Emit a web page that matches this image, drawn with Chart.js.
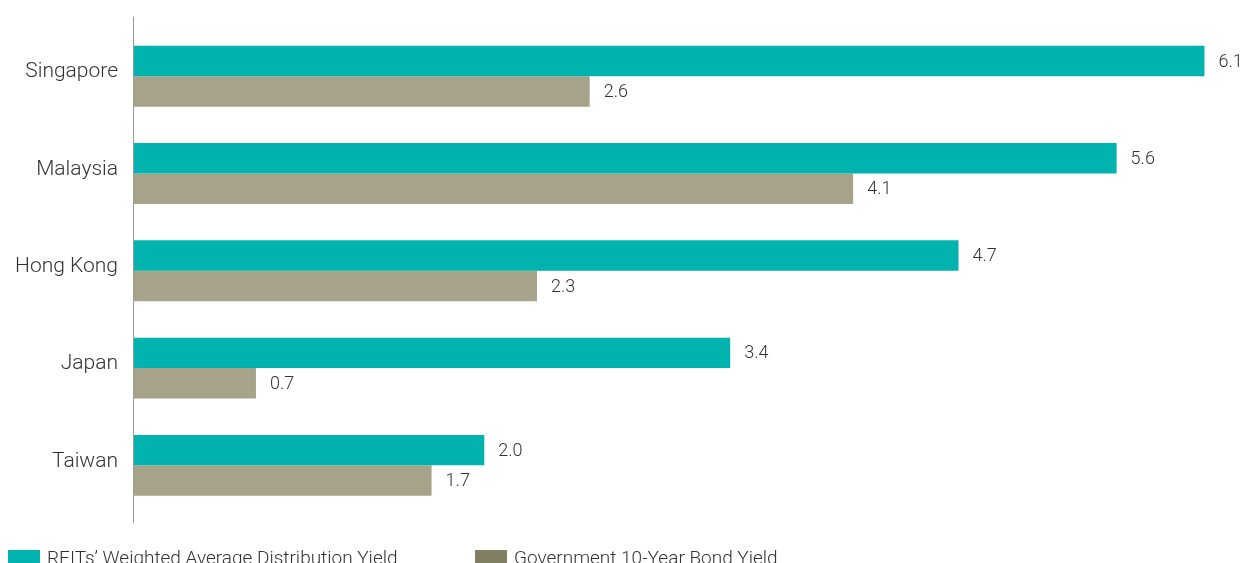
<!DOCTYPE html>
<html>
<head>
<meta charset="utf-8">
<script src="https://cdn.jsdelivr.net/npm/chart.js@4.4.1/dist/chart.umd.min.js"></script>
<style>
    html, body { margin: 0; padding: 0; background: #fff; overflow: hidden; }
    #wrap { position: relative; width: 1245px; height: 563px; }
    #legend { position: absolute; left: 0; top: 546px; width: 1245px; font: 300 19px Roboto, sans-serif; color: #333; white-space: nowrap; }
    .item { position: absolute; top: 0; display: flex; align-items: center; }
    .box { width: 32px; height: 15px; margin-right: 7px; }
</style>
</head>
<body>
<div id="wrap">
    <canvas id="chart" width="1245" height="563"></canvas>
    <div id="legend"></div>
</div>
<script>
var countries = ['Singapore', 'Malaysia', 'Hong Kong', 'Japan', 'Taiwan'];
var reitYield = [6.1, 5.6, 4.7, 3.4, 2.0];
var bondYield = [2.6, 4.1, 2.3, 0.7, 1.7];
var seriesNames = ['REITs\u2019 Weighted Average Distribution Yield', 'Government 10-Year Bond Yield'];

var barColors = ['#00b3ae', '#a6a38a'];
var legendColors = ['#00b3ae', '#817f63'];
var legendLeft = [8, 475];

// value labels at the end of each bar
var valueLabels = {
    id: 'valueLabels',
    afterDatasetsDraw: function(chart) {
        var ctx = chart.ctx;
        ctx.save();
        ctx.font = '300 18px Roboto, sans-serif';
        ctx.fillStyle = '#333';
        ctx.textBaseline = 'middle';
        ctx.textAlign = 'left';
        chart.data.datasets.forEach(function(ds, i) {
            chart.getDatasetMeta(i).data.forEach(function(bar, j) {
                ctx.fillText(ds.data[j].toFixed(1), bar.x + 14, bar.y + 1);
            });
        });
        ctx.restore();
    }
};

// vertical axis line, a bit longer than the plot area
var axisLine = {
    id: 'axisLine',
    afterDraw: function(chart) {
        var ctx = chart.ctx;
        var a = chart.chartArea;
        ctx.save();
        ctx.strokeStyle = '#9a9a9a';
        ctx.lineWidth = 1;
        ctx.beginPath();
        ctx.moveTo(a.left + 0.5, a.top - 11);
        ctx.lineTo(a.left + 0.5, a.bottom + 9);
        ctx.stroke();
        ctx.restore();
    }
};

var ctx = document.getElementById('chart').getContext('2d');
var chart = new Chart(ctx, {
    type: 'bar',
    data: {
        labels: countries,
        datasets: [{
            label: seriesNames[0],
            data: reitYield,
            backgroundColor: barColors[0]
        }, {
            label: seriesNames[1],
            data: bondYield,
            backgroundColor: barColors[1]
        }]
    },
    options: {
        indexAxis: 'y',
        responsive: false,
        animation: false,
        categoryPercentage: 0.626,
        barPercentage: 1.0,
        layout: { padding: { top: 26, bottom: 49, left: 0, right: 23 } },
        plugins: {
            legend: { display: false },
            tooltip: { enabled: false }
        },
        scales: {
            x: { min: 0, max: 6.2, display: false },
            y: {
                grid: { display: false, drawTicks: false },
                border: { display: false },
                ticks: {
                    color: '#333',
                    padding: 15,
                    labelOffset: -4,
                    font: { family: 'Roboto', size: 21, weight: 300 }
                },
                afterFit: function(scale) { scale.width = 133; }
            }
        }
    },
    plugins: [valueLabels, axisLine]
});

// legend below the chart
var legend = document.getElementById('legend');
chart.data.datasets.forEach(function(ds, i) {
    var item = document.createElement('div');
    item.className = 'item';
    item.style.left = legendLeft[i] + 'px';
    var box = document.createElement('span');
    box.className = 'box';
    box.style.background = legendColors[i];
    var txt = document.createElement('span');
    txt.textContent = ds.label;
    item.appendChild(box);
    item.appendChild(txt);
    legend.appendChild(item);
});
</script>
</body>
</html>
